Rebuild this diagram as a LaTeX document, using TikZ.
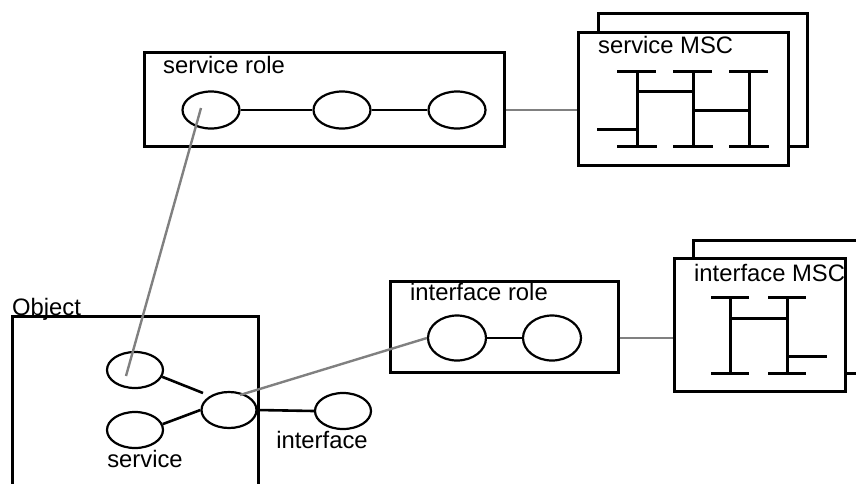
\documentclass[tikz,border=0pt]{standalone}
\usepackage{fontspec}
\setmainfont{Liberation Sans}
\usetikzlibrary{shapes.geometric,calc}
\definecolor{tracegray}{HTML}{808080}
\begin{document}
\begin{tikzpicture}[x=1pt,y=-1pt,
  frame/.style={draw=black,line width=3pt,fill=white,inner sep=0pt,rectangle},
  role/.style={draw=black,line width=2.2pt,ellipse,inner sep=0pt,minimum width=57pt,minimum height=37pt},
  link/.style={line width=2.6pt},
  trace/.style={draw=tracegray,line width=2.4pt},
  life/.style={line width=3pt},
  lbl/.style={anchor=base west,inner sep=0pt,font=\fontsize{23.8}{28}\selectfont},
  clbl/.style={anchor=base,inner sep=0pt,font=\fontsize{23.8}{28}\selectfont}]
\clip (0,0) rectangle (856,483);

% ---- service role with its message sequence chart ----
\node[frame,minimum width=360pt,minimum height=94pt] (srbox) at (324,99) {};
\node[lbl] (tsr) at (163,73) {service role};
\node[role] (sr1) at (211,110) {};
\node[role] (sr2) at (342,110) {};
\node[role] (sr3) at (457,110) {};
\draw[link] (sr1) -- (sr2);
\draw[link] (sr2) -- (sr3);

\node[frame,minimum width=209pt,minimum height=133pt] (smscb) at (702.5,79.5) {};
\node[frame,minimum width=210pt,minimum height=133pt] (smsc) at (683,98.5) {};
\node[lbl] (tsm) at (598,53) {service MSC};
\begin{scope}[life]
  \foreach \x in {637,693,749}{
    \draw (\x,71) -- (\x,146);
    \draw (\x-20,71) -- (\x+19,71);
    \draw (\x-20,146) -- (\x+20,146);
  }
  \draw (637,91) -- (693,91);
  \draw (693,110) -- (749,110);
  \draw (597,129) -- (637,129);
\end{scope}
\draw[trace] (srbox.east |- sr3.center) -- (smsc.west |- sr3.center);

% ---- interface role with its message sequence chart ----
\node[frame,minimum width=228pt,minimum height=91pt] (irbox) at (504,326.5) {};
\node[lbl] (tir) at (410,300) {interface role};
\node[role,minimum width=58pt,minimum height=45pt] (ir1) at (457,338) {};
\node[role,minimum width=58pt,minimum height=45pt] (ir2) at (552,338) {};
\draw[link] (ir1) -- (ir2);

\draw[black,line width=3pt] (693,258) -- (693,240) -- (870,240);
\draw[black,line width=3pt] (845,373) -- (870,373);
\node[frame,minimum width=171pt,minimum height=133pt] (imsc) at (759.5,324.5) {};
\node[lbl] (tim) at (694,281) {interface MSC};
\begin{scope}[life]
  \foreach \x in {730,787}{
    \draw (\x,297) -- (\x,373);
    \draw (\x-19,297) -- (\x+19,297);
    \draw (\x-19,373) -- (\x+19,373);
  }
  \draw (730,318) -- (787,318);
  \draw (787,356) -- (827,356);
\end{scope}
\draw[trace] (irbox.east |- ir1.center) -- (imsc.west |- ir1.center);

% ---- object with its service and interface ports ----
\draw[black,line width=3pt] (12.5,490) -- (12.5,316) -- (258,316) -- (258,490);
\node[lbl] (tob) at (12,315) {Object};
\node[role,minimum width=56pt,minimum height=36pt] (o1) at (135,370) {};
\node[role,minimum width=56pt,minimum height=36pt] (o2) at (135,430) {};
\node[role,minimum width=55pt,minimum height=36pt] (hub) at (229,410) {};
\node[role,minimum width=56pt,minimum height=36pt] (o4) at (343,411) {};
\coordinate (o1end) at (203,393);
\draw[link] (o1.-14) -- (o1end);
\draw[link] (o2.12) -- (hub.west);
\draw[link] (hub.east) -- (o4.west);
\node[clbl] (tif) at (322,448) {interface};
\node[clbl] (tsv) at (145,467) {service};

% ---- role bindings ----
\draw[trace] ($(sr1.center)+(-10,-2)$) -- ($(o1.center)+(-9,6)$);
\draw[trace] ($(hub.center)+(11,-15)$) -- (ir1.west);
\end{tikzpicture}
\end{document}
